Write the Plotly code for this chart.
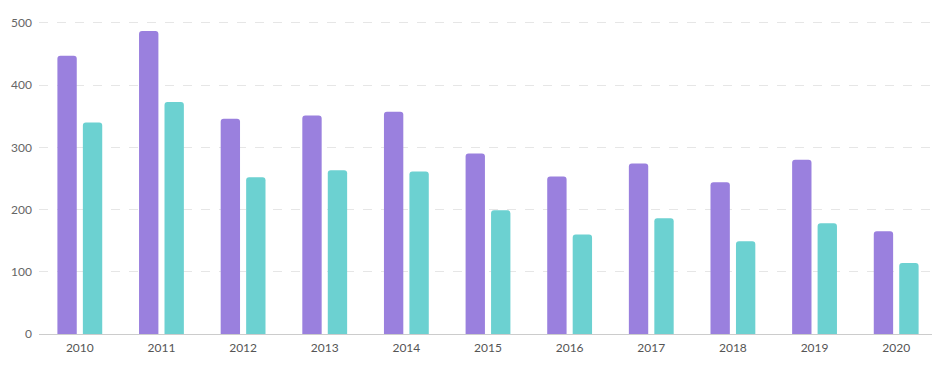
import plotly.graph_objects as go

years = ["2010", "2011", "2012", "2013", "2014", "2015", "2016", "2017", "2018", "2019", "2020"]
series_a = [447, 487, 346, 351, 357, 290, 253, 274, 244, 280, 165]
series_b = [340, 373, 252, 263, 261, 199, 160, 186, 149, 178, 114]
y_ticks = [0, 100, 200, 300, 400, 500]

fig = go.Figure()
fig.add_trace(go.Bar(x=years, y=series_a, marker=dict(color="#9a80de", line=dict(width=0)), name="A"))
fig.add_trace(go.Bar(x=years, y=series_b, marker=dict(color="#6cd1d1", line=dict(width=0)), name="B"))

fig.update_layout(
    width=940, height=371,
    margin=dict(l=31, r=11, t=13, b=45, autoexpand=False),
    plot_bgcolor="white", paper_bgcolor="white",
    barmode="group", bargap=0.376, bargroupgap=0.24,
    barcornerradius=3,
    showlegend=False,
    font=dict(family="Lato, Noto Sans, sans-serif", size=12, color="#666666"),
)
fig.update_xaxes(showline=True, linecolor="#cccccc", linewidth=1, ticks="", showgrid=False,
                 automargin=False, ticklabelstandoff=3, tickfont=dict(size=12, color="#555555"))
fig.update_yaxes(range=[0, 503], tickvals=y_ticks, showgrid=True, gridcolor="#e6e6e6",
                 griddash="dash", gridwidth=1, zeroline=False, showline=False, ticks="",
                 automargin=False, ticklabelstandoff=6, tickfont=dict(size=12, color="#666666"))

fig.write_html("out.html")
